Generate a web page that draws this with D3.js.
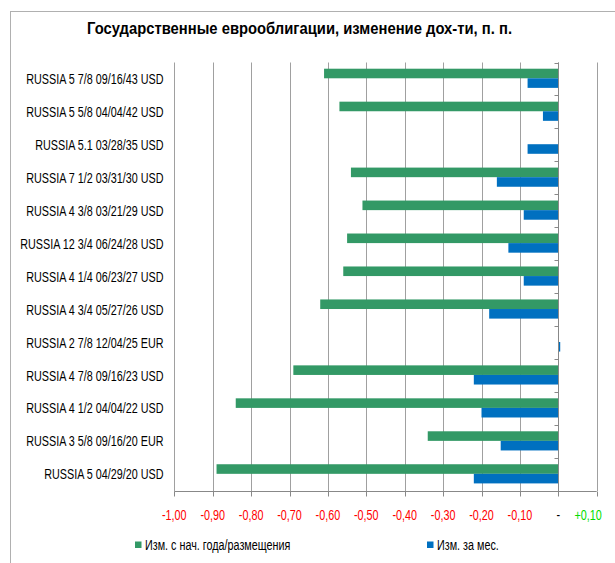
<!DOCTYPE html>
<html><head><meta charset="utf-8">
<script src="https://cdn.jsdelivr.net/npm/d3@7"></script>
<style>body{margin:0;background:#fff}svg{display:block}</style>
</head><body>
<script>
const categories = [
  "RUSSIA 5 7/8 09/16/43 USD","RUSSIA 5 5/8 04/04/42 USD","RUSSIA 5.1 03/28/35 USD",
  "RUSSIA 7 1/2 03/31/30 USD","RUSSIA 4 3/8 03/21/29 USD","RUSSIA 12 3/4 06/24/28 USD",
  "RUSSIA 4 1/4 06/23/27 USD","RUSSIA 4 3/4 05/27/26 USD","RUSSIA 2 7/8 12/04/25 EUR",
  "RUSSIA 4 7/8 09/16/23 USD","RUSSIA 4 1/2 04/04/22 USD","RUSSIA 3 5/8 09/16/20 EUR",
  "RUSSIA 5 04/29/20 USD"];
const ytdChange = [-0.61,-0.57,0,-0.54,-0.51,-0.55,-0.56,-0.62,0,-0.69,-0.84,-0.34,-0.89];
const monthChange = [-0.08,-0.04,-0.08,-0.16,-0.09,-0.13,-0.09,-0.18,0.005,-0.22,-0.20,-0.15,-0.22];
const seriesNames = ["Изм. с нач. года/размещения","Изм. за мес."];
const tickValues = [-1,-0.9,-0.8,-0.7,-0.6,-0.5,-0.4,-0.3,-0.2,-0.1,0,0.1];
const tickLabels = ["-1,00","-0,90","-0,80","-0,70","-0,60","-0,50","-0,40","-0,30","-0,20","-0,10","-","+0,10"];
const title = "Государственные еврооблигации, изменение дох-ти, п. п.";

const W=615,H=563;
const colors=["#339966","#0070C0"];
const FONT="'Liberation Sans', Arial, sans-serif";
const CONDENSE=0.77;

const svg=d3.select("body").append("svg").attr("width",W).attr("height",H);
function condense(sel,f){sel.each(function(){const n=this.getComputedTextLength();if(n>0)d3.select(this).attr("textLength",n*(f||CONDENSE)).attr("lengthAdjust","spacingAndGlyphs");});}

// frame
svg.append("rect").attr("x",10.5).attr("y",11.5).attr("width",W).attr("height",H).attr("fill","none").attr("stroke","#b0b0b0");

const x=d3.scaleLinear().domain([-1,0.1]).range([174.3,596.7]);
const y=d3.scaleBand().domain(categories).range([62.5,491]).padding(0);
const sub=d3.scaleBand().domain([0,1]).range([0,y.bandwidth()]).paddingInner(0).paddingOuter(0.72).align(0.45);

// gridlines
svg.append("g").selectAll("line").data(tickValues).join("line")
  .attr("x1",d=>Math.round(x(d))+0.5).attr("x2",d=>Math.round(x(d))+0.5)
  .attr("y1",62.5).attr("y2",491).attr("stroke","#a0a0a0").attr("stroke-width",1);

// bars
const data=categories.map((c,i)=>[{c,s:0,v:ytdChange[i]},{c,s:1,v:monthChange[i]}]).flat();
svg.append("g").selectAll("rect").data(data).join("rect")
  .attr("x",d=>x(Math.min(0,d.v))).attr("width",d=>Math.abs(x(d.v)-x(0)))
  .attr("y",d=>y(d.c)+sub(d.s)).attr("height",sub.bandwidth())
  .attr("fill",d=>colors[d.s]);

// zero axis with category ticks
const yAxis=svg.append("g").attr("transform",`translate(${Math.round(x(0))+0.5},0)`);
yAxis.append("line").attr("y1",62.5).attr("y2",491).attr("stroke","#888");
yAxis.selectAll("line.t").data(d3.range(categories.length+1)).join("line").attr("class","t")
  .attr("x1",-4).attr("x2",0).attr("y1",i=>Math.round(62.5+i*y.step())+0.5).attr("y2",i=>Math.round(62.5+i*y.step())+0.5).attr("stroke","#888");

// x axis
const xAxis=svg.append("g").attr("transform","translate(0,491.5)");
xAxis.append("line").attr("x1",x(-1)).attr("x2",x(0.1)).attr("stroke","#888");
xAxis.selectAll("line.t").data(tickValues).join("line").attr("class","t")
  .attr("x1",d=>Math.round(x(d))+0.5).attr("x2",d=>Math.round(x(d))+0.5).attr("y1",0).attr("y2",5).attr("stroke","#888");
const last=tickValues.length-1;
xAxis.selectAll("text").data(tickValues).join("text")
  .attr("x",(d,i)=>i===last?x(d)+5:x(d)).attr("y",24).attr("dy","0.35em")
  .attr("text-anchor",(d,i)=>i===last?"end":"middle")
  .attr("font-family",FONT).attr("font-size",14)
  .attr("fill",d=>d<0?"#FF0000":(d>0?"#00DD00":"#000"))
  .text((d,i)=>tickLabels[i]).call(condense);

// category labels
svg.append("g").selectAll("text").data(categories).join("text")
  .attr("x",163.5).attr("y",d=>y(d)+y.bandwidth()/2).attr("dy","0.35em").attr("text-anchor","end")
  .attr("font-family",FONT).attr("font-size",14).attr("fill","#000").text(d=>d).call(condense);

// title
svg.append("text").attr("x",299.5).attr("y",34).attr("text-anchor","middle")
  .attr("font-family",FONT).attr("font-weight","bold").attr("font-size",17).attr("fill","#000")
  .text(title).attr("textLength",425).attr("lengthAdjust","spacingAndGlyphs");

// legend
const lx=[135,427];
const lg=svg.append("g").selectAll("g").data(seriesNames).join("g").attr("transform",(d,i)=>`translate(${lx[i]},541.5)`);
lg.append("rect").attr("width",6.5).attr("height",6.5).attr("fill",(d,i)=>colors[i]);
lg.append("text").attr("x",10).attr("y",3.5).attr("dy","0.35em").attr("font-family",FONT).attr("font-size",14)
  .attr("fill","#000").text(d=>d).call(condense);
</script>
</body></html>
